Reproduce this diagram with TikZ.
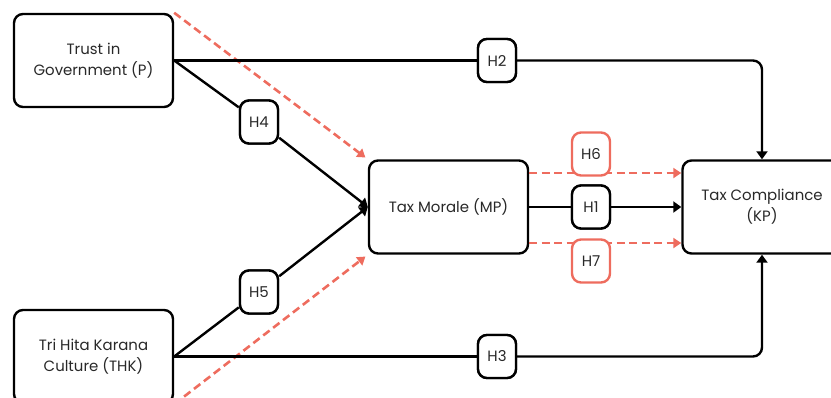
\documentclass[tikz,border=0pt]{standalone}
\usepackage{fontspec}
\setmainfont{Poppins}
\usetikzlibrary{arrows.meta,calc}
\definecolor{salmon}{RGB}{238,108,94}
\definecolor{ink}{RGB}{40,40,40}
\tikzset{
  varbox/.style={draw=black, line width=2.4bp, rounded corners=9bp, fill=white,
    minimum width=159bp, minimum height=93bp, align=center, text=ink,
    font=\fontsize{15}{21}\selectfont, inner sep=0pt},
  hbox/.style={draw=black, line width=2.4bp, rounded corners=9bp, fill=white,
    minimum width=38bp, minimum height=43bp, text=ink,
    font=\fontsize{15}{17}\selectfont, inner sep=0pt},
  hred/.style={hbox, draw=salmon},
  link/.style={draw=black, line width=2.4bp},
  arrowlink/.style={link, -{Triangle[length=8bp,width=11bp]}},
  redlink/.style={draw=salmon, line width=2.6bp, dash pattern=on 8bp off 4.5bp,
    -{Triangle[length=8bp,width=10bp]}},
}
\begin{document}
\begin{tikzpicture}[x=1bp,y=-1bp]
\useasboundingbox (0,0) rectangle (831,397);

% latent variables
\node[varbox] (P)   at (93.5,60.5)  {Trust in\\Government (P)};
\node[varbox] (THK) at (93.5,356.5) {Tri Hita Karana\\Culture (THK)};
\node[varbox] (MP)  at (448.5,207)  {Tax Morale (MP)};
\node[varbox] (KP)  at (762,207)    {Tax Compliance\\(KP)};

% offsets of the two mediation arrows between MP and KP
\coordinate (up)   at ($(MP.east)+(0,-34)$);
\coordinate (down) at ($(MP.east)+(0,36)$);

% hypothesis labels on the direct paths
\node[hbox] (H2) at (497,60.5)  {H2};
\node[hbox] (H3) at (497,356.5) {H3};
\node[hbox] (H4) at (259,122)   {H4};
\node[hbox] (H5) at (259,292)   {H5};
\node[hbox] (H1) at (591,207)   {H1};

% mediation paths (dashed)
\draw[redlink, shorten >=3bp] (P.north east) -- (MP.north west);
\draw[redlink, shorten >=3bp] (THK.south east) -- (MP.south west);
\draw[redlink] (up) -- (up -| KP.west);
\draw[redlink] (down) -- (down -| KP.west);

\node[hred] (H6) at (591,154) {H6};
\node[hred] (H7) at (591,261) {H7};

% direct paths
\draw[link] (P.east) -- (H2);
\draw[arrowlink, rounded corners=9bp] (H2) -| (KP.north);
\draw[link] (THK.east) -- (H3);
\draw[arrowlink, rounded corners=9bp] (H3) -| (KP.south);

\draw[link] (P.east) -- (H4);
\draw[arrowlink] (H4) -- (MP.west);
\draw[link] (THK.east) -- (H5);
\draw[arrowlink] (H5) -- (MP.west);

\draw[link] (MP.east) -- (H1);
\draw[arrowlink] (H1) -- (KP.west);

% labels drawn again on top of their connectors
\node[hbox] at (H2) {H2};
\node[hbox] at (H3) {H3};
\node[hbox] at (H4) {H4};
\node[hbox] at (H5) {H5};
\node[hbox] at (H1) {H1};
\end{tikzpicture}
\end{document}
